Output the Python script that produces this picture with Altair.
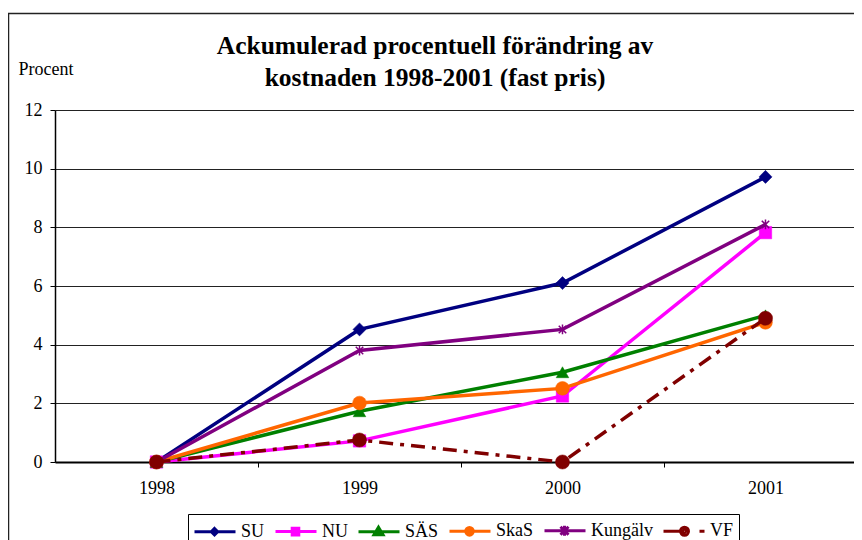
import altair as alt
import pandas as pd

years = [1998, 1999, 2000, 2001]
series = ["SU", "NU", "SÄS", "SkaS", "Kungälv", "VF"]
su = [0, 4.52, 6.1, 9.72]
nu = [0, 0.72, 2.25, 7.82]
sas = [0, 1.73, 3.06, 5.0]
skas = [0, 2.01, 2.51, 4.76]
kungalv = [0, 3.8, 4.52, 8.1]
vf = [0, 0.75, 0, 4.9]
values_by_series = [su, nu, sas, skas, kungalv, vf]
colors = ["#000080", "#FF00FF", "#008000", "#FF6600", "#800080", "#800000"]
y_ticks = [0, 2, 4, 6, 8, 10, 12]
title_lines = ["Ackumulerad procentuell förändring av", "kostnaden 1998-2001 (fast pris)"]

rows = []
for s, vals in zip(series, values_by_series):
    for yr, v in zip(years, vals):
        rows.append({"year": yr, "value": v, "series": s})
df = pd.DataFrame(rows)

FONT = "Liberation Serif"

x_enc = alt.X(
    "year:Q",
    scale=alt.Scale(domain=[1997.5, 2001.436], nice=False, zero=False),
    axis=alt.Axis(
        values=[1998, 1998.5, 1999, 1999.5, 2000, 2000.5, 2001],
        labelExpr="datum.value % 1 === 0 ? '' + datum.value : ''",
        tickOpacity={"condition": {"test": "datum.value % 1 === 0", "value": 0}, "value": 1},
        tickSize=5, tickColor="black", tickWidth=1,
        grid=False, domainColor="black", domainWidth=2,
        labelFont=FONT, labelFontSize=18, labelColor="black", labelPadding=12,
        labelOverlap=False, labelFlush=False, title=None,
    ),
)
y_enc = alt.Y(
    "value:Q",
    scale=alt.Scale(domain=[0, 12], nice=False),
    axis=alt.Axis(
        values=y_ticks, grid=True, gridColor="#222222", gridWidth=1,
        domainColor="black", domainWidth=1.5, tickColor="black", tickSize=5,
        labelFont=FONT, labelFontSize=18, labelColor="black", labelPadding=8,
        title="Procent", titleAngle=0, titleAlign="left", titleBaseline="middle",
        titleX=-37, titleY=-41, titleFont=FONT, titleFontSize=18,
        titleFontWeight="normal", titleColor="black",
    ),
)

point_specs = {
    "SU": dict(shape="diamond", size=170, filled=True),
    "NU": dict(shape="square", size=155, filled=True),
    "SÄS": dict(shape="triangle-up", size=160, filled=True),
    "SkaS": dict(shape="circle", size=190, filled=True),
    "Kungälv": dict(shape="M-1,-1L1,1M-1,1L1,-1M0,-1.3L0,1.3", size=56, filled=False, strokeWidth=1.5),
    "VF": dict(shape="circle", size=200, filled=True),
}

layers = []
# outer frame
layers.append(
    alt.Chart(pd.DataFrame({"k": [0]})).mark_rect(fill="transparent", stroke="#222222", strokeWidth=1.5).encode(
        x=alt.value(-46.5), x2=alt.value(900), y=alt.value(-96.5), y2=alt.value(600)
    )
)
for i, (s, c) in enumerate(zip(series, colors)):
    base = alt.Chart(df).transform_filter(alt.datum.series == s)
    lkw = dict(color=c, strokeWidth=3.5)
    if s == "VF":
        lkw["strokeDash"] = [14, 7, 4, 7]
    enc = dict(x=x_enc, y=y_enc) if i == 0 else dict(x="year:Q", y="value:Q")
    layers.append(base.mark_line(**lkw).encode(**enc))
    spec = point_specs[s]
    pkw = dict(shape=spec["shape"], size=spec["size"], opacity=1)
    if spec["filled"]:
        pkw.update(filled=True, fill=c, stroke=c, strokeWidth=0.5)
    else:
        pkw.update(filled=False, stroke=c, strokeWidth=spec["strokeWidth"])
    layers.append(base.mark_point(**pkw).encode(x="year:Q", y="value:Q"))

# legend symbols: line + marker (1 unit = 10 px); nested outlines look filled
legend_paths = [
    "M-2,0L2.1,0M0,-0.32L0.32,0L0,0.32L-0.32,0ZM0,-0.05L0.05,0L0,0.05L-0.05,0Z",
    "M-2,0L2.1,0M-0.33,-0.33L0.33,-0.33L0.33,0.33L-0.33,0.33ZM-0.05,-0.05L0.05,-0.05L0.05,0.05L-0.05,0.05Z",
    "M-2,0L2.1,0M0,-0.45L0.45,0.3L-0.45,0.3ZM0,-0.05L0.1,0.12L-0.1,0.12Z",
    "M-2,0L2.1,0M0.38,0A0.38,0.38 0 1,1 -0.38,0A0.38,0.38 0 1,1 0.38,0ZM0.08,0A0.08,0.08 0 1,1 -0.08,0A0.08,0.08 0 1,1 0.08,0Z",
    "M-2,0L2.1,0M-0.4,-0.4L0.4,0.4M-0.4,0.4L0.4,-0.4M0,-0.5L0,0.5",
    "M-2,0L0.1,0M0.5,0A0.4,0.4 0 1,1 -0.3,0A0.4,0.4 0 1,1 0.5,0ZM0.2,0A0.1,0.1 0 1,1 0,0A0.1,0.1 0 1,1 0.2,0ZM1.6,0L2.1,0",
]
leg = alt.Legend(
    orient="none", legendX=133, legendY=404, direction="horizontal", title=None,
    symbolSize=400, symbolOffset=10, symbolStrokeWidth=3, symbolOpacity=1,
    labelFont=FONT, labelFontSize=18, labelColor="black", labelOffset=15,
    columnPadding=4, padding=5, strokeColor="black", fillColor="white",
)
layers.append(
    alt.Chart(df).transform_filter("false").mark_point(filled=False, opacity=1).encode(
        stroke=alt.Stroke("series:N", scale=alt.Scale(domain=series, range=colors), legend=leg),
        shape=alt.Shape("series:N", scale=alt.Scale(domain=series, range=legend_paths), legend=leg),
    )
)

chart = alt.layer(*layers).properties(
    width=799, height=352,
    padding={"left": 47, "top": 102, "right": 0, "bottom": 78},
    autosize=alt.AutoSizeParams(type="none"),
    title=alt.Title(
        text=title_lines, font=FONT, fontSize=25.5, fontWeight="bold", color="black",
        anchor="middle", frame="group", dx=-19.5, dy=104, offset=0, lineHeight=32, baseline="bottom",
    ),
    background="white",
).configure(font=FONT).configure_view(strokeWidth=0).configure_legend(
    labelFont=FONT, labelFontSize=18, labelColor="black"
)

chart.save("out.html", embed_options={"renderer": "svg", "actions": False})
